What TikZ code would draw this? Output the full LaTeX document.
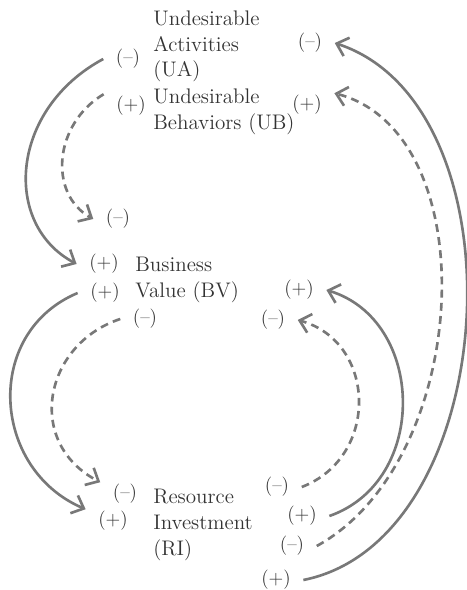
\documentclass[tikz,border=0pt]{standalone}
\usepackage{tikz}
\usetikzlibrary{arrows.meta}
\definecolor{linkgray}{gray}{0.47}
\definecolor{textgray}{gray}{0.2}

\begin{document}
\begin{tikzpicture}[
				x=0.02cm, y=-0.02cm,
				V/.style = {align=left, anchor=west, inner sep=0pt, text=textgray,
					font=\fontsize{12}{14.6}\selectfont},% variables
				S/.style = {inner xsep=7pt, inner ysep=1pt, text=textgray,
					font=\fontsize{11}{12}\selectfont},% signs of the links
				L/.style = {draw=linkgray, line width=1.5pt,
					-{Straight Barb[length=6pt,width=11pt]}},
				D/.style = {L, dash pattern=on 4.5pt off 3pt},% dashed link
				]
				\useasboundingbox (0,0) rectangle (466,590);
				% variables
				\node[V] (UA) at (153,46.5) {Undesirable\\Activities\\(UA)};
				\node[V] (UB) at (153,112) {Undesirable\\Behaviors (UB)};
				\node[V] (BV) at (135,280) {Business\\Value (BV)};
				\node[V] (RI) at (153,525) {Resource\\Investment\\(RI)};
				% signs
				\node[S] (uaL) at (128,59) {(--)};
				\node[S] (uaR) at (310,43) {(--)};
				\node[S] (ubL) at (131,106) {(+)};
				\node[S] (ubR) at (307,105) {(+)};
				\node[S] (ubIn) at (118,219) {(--)};
				\node[S] (bvA) at (104,264) {(+)};
				\node[S] (bvB) at (105,293) {(+)};
				\node[S] (bvC) at (145,319) {(--)};
				\node[S] (bvD) at (299,290) {(+)};
				\node[S] (bvE) at (273,320) {(--)};
				\node[S] (riA) at (125,494) {(--)};
				\node[S] (riB) at (113,521) {(+)};
				\node[S] (riC) at (277,487) {(--)};
				\node[S] (riD) at (302,516) {(+)};
				\node[S] (riE) at (292,546) {(--)};
				\node[S] (riF) at (276,580) {(+)};
				% links on the left
				\draw[L] (uaL.west) .. controls +(-93,50) and +(-75,-40) .. (bvA.west);
				\draw[D] (ubL.north west) .. controls +(-50,30) and +(-45,-25) .. (ubIn.west);
				\draw[L] (bvB.west) .. controls +(-95,40) and +(-94,-40) .. (riB.north west);
				\draw[D] (bvC.west) .. controls +(-76,25) and +(-76,-40) .. (riA.north west);
				% links on the right
				\draw[D] (riC.east) .. controls +(78,-30) and +(79,22) .. (bvE.east);
				\draw[L] (riD.east) .. controls +(100,-35) and +(99,30) .. (bvD.east);
				\draw[D] (riE.east) .. controls +(155,-85) and +(153,40) .. (ubR.north east);
				\draw[L] (riF.east) .. controls +(200,-40) and +(192,63) .. (uaR.east);
			\end{tikzpicture}
\end{document}
